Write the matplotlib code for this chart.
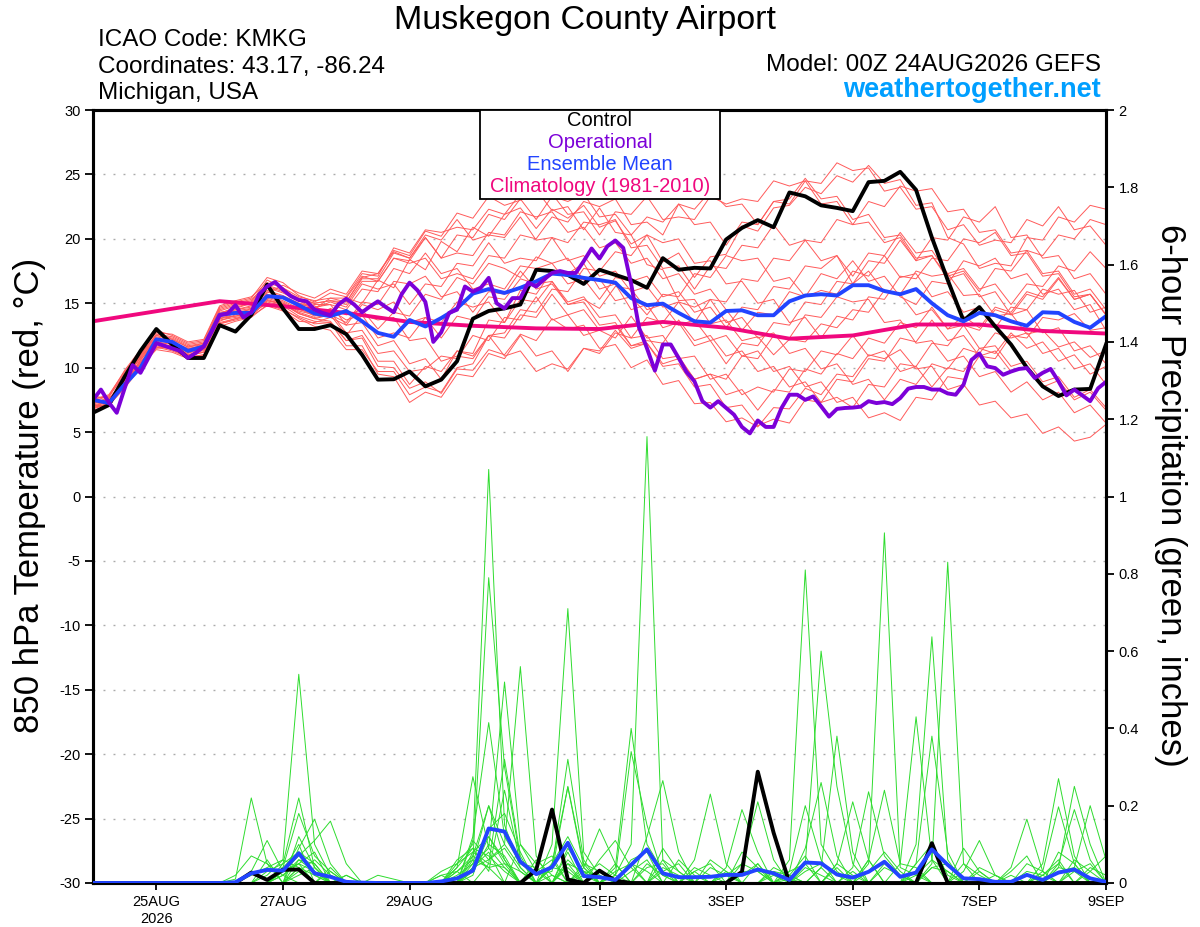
import numpy as np
import matplotlib
matplotlib.use('Agg')
import matplotlib.pyplot as plt
from matplotlib.patches import Rectangle
from matplotlib.ticker import FuncFormatter

plt.rcParams['font.family'] = ['Liberation Sans', 'DejaVu Sans']

# ---------------- DATA ----------------
start = np.datetime64('2026-08-24T00:00')

# control (6-hourly, deg C)
control_t = [6.5, 7.1, 9.3, 11.3, 13.0, 11.8, 10.75, 10.75, 13.3, 12.8,
             14.1, 16.45, 14.6, 13.0, 13.0, 13.3, 12.6, 11.0, 9.07, 9.1,
             9.7, 8.55, 9.07, 10.5, 13.8, 14.4, 14.6, 14.9, 17.6, 17.5,
             17.2, 16.5, 17.6, 17.2, 16.8, 16.2, 18.5, 17.6, 17.75, 17.7,
             19.95, 20.85, 21.45, 20.9, 23.6, 23.3, 22.6, 22.4, 22.15, 24.4,
             24.5, 25.2, 23.8, 20.1, 16.8, 13.65, 14.7, 13.2, 11.8, 10.0,
             8.55, 7.8, 8.3, 8.35, 11.8]

# ensemble mean (6-hourly)
mean_t = [7.5, 7.25, 8.7, 10.0, 12.2, 12.0, 11.3, 11.65, 14.1, 14.25,
          14.25, 15.55, 15.45, 14.85, 14.2, 14.0, 14.4, 13.6, 12.7, 12.4,
          13.7, 13.2, 13.85, 14.6, 15.75, 16.1, 15.8, 16.2, 16.7, 17.3,
          17.2, 16.97, 16.8, 16.6, 15.4, 14.85, 14.97, 14.25, 13.6, 13.5,
          14.4, 14.45, 14.07, 14.07, 15.15, 15.6, 15.7, 15.6, 16.4, 16.4,
          15.95, 15.7, 16.1, 15.0, 14.07, 13.6, 14.25, 14.07, 13.6, 13.25,
          14.3, 14.25, 13.55, 13.1, 14.0]

# operational (3-hourly)
oper_t = [7.5, 8.3, 7.3, 6.5, 8.4, 10.2, 9.6, 10.75, 11.9, 11.7,
          11.5, 11.3, 10.75, 11.15, 11.65, 12.8, 14.07, 14.2, 14.85, 13.9,
          14.3, 15.7, 16.3, 16.65, 16.05, 15.55, 15.25, 15.15, 14.5, 14.25,
          14.07, 14.9, 15.35, 14.9, 14.3, 14.75, 15.15, 14.7, 14.3, 15.7,
          16.6, 16.0, 15.1, 12.0, 12.75, 14.25, 14.5, 16.3, 15.9, 16.2,
          16.97, 15.0, 14.6, 15.4, 15.4, 16.6, 16.3, 16.85, 17.35, 17.5,
          17.35, 17.35, 18.26, 19.25, 18.47, 19.43, 19.87, 19.3, 16.5, 13.1,
          11.5, 9.77, 11.8, 11.8, 10.75, 9.66, 8.94, 7.4, 6.9, 7.4,
          6.87, 6.35, 5.4, 4.9, 5.9, 5.4, 5.4, 6.87, 7.9, 7.9,
          7.5, 7.77, 7.0, 6.2, 6.8, 6.87, 6.9, 6.97, 7.4, 7.25,
          7.33, 7.17, 7.64, 8.37, 8.5, 8.5, 8.3, 8.3, 8.0, 7.9,
          8.68, 10.6, 11.1, 10.1, 9.97, 9.45, 9.7, 9.9, 9.97, 9.2,
          9.6, 9.9, 8.94, 7.85, 8.3, 7.85, 7.4, 8.4, 8.9]

# climatology (daily points, day offset from 24AUG)
clim_days = [0, 2, 3, 4, 5, 6, 7, 8, 9, 10, 11, 12, 13, 14, 15, 16]
clim_t = [13.6, 15.16, 14.77, 14.25, 13.55, 13.25, 13.05, 13.0, 13.55, 13.1,
          12.25, 12.5, 13.35, 13.35, 12.85, 12.65]

# ensemble members temperature (6-hourly)
members_t = [
    [7.0, 7.4, 9.2, 10.8, 12.3, 12.0, 11.4, 11.8, 14.2, 14.6, 15.0, 16.0, 15.6, 15.0, 14.8,
     14.0, 15.4, 15.0, 16.8, 16.2, 18.4, 17.6, 19.8, 19.0, 20.9, 20.2, 21.9, 22.4, 20.8, 22.3,
     21.6, 22.6, 20.9, 21.4, 19.6, 20.3, 18.2, 18.9, 17.0, 18.6, 18.8, 21.0, 20.6, 22.4, 22.6,
     24.0, 23.5, 24.9, 24.4, 25.7, 24.3, 24.6, 22.6, 22.8, 20.1, 19.6, 17.7, 18.1, 17.9, 20.1,
     19.9, 21.7, 21.3, 22.6, 22.3],
    [7.5, 7.0, 8.6, 10.2, 11.6, 11.3, 10.8, 11.0, 13.5, 13.8, 14.0, 15.2, 15.0, 14.2, 13.8,
     13.6, 12.1, 12.3, 10.1, 10.0, 8.4, 8.9, 8.0, 9.9, 9.8, 11.4, 11.0, 12.6, 12.1, 13.8,
     13.0, 13.3, 11.5, 11.8, 10.0, 10.6, 8.7, 9.0, 7.2, 7.3, 5.8, 6.1, 5.4, 6.9, 6.8,
     8.4, 7.9, 9.5, 9.3, 11.0, 10.7, 11.4, 9.9, 10.1, 8.3, 8.7, 7.1, 7.4, 6.1, 6.4,
     4.9, 5.4, 4.3, 4.6, 5.6],
    [6.8, 7.2, 9.5, 11.2, 12.8, 12.2, 11.6, 11.9, 14.6, 15.0, 15.3, 16.4, 16.0, 15.4, 15.0,
     15.2, 15.1, 17.0, 17.3, 19.1, 18.7, 20.6, 20.2, 22.0, 21.6, 23.3, 22.6, 23.0, 23.8, 22.2,
     22.5, 20.7, 22.4, 20.5, 20.3, 18.0, 17.6, 15.2, 15.3, 13.4, 13.7, 12.1, 12.4, 11.0, 12.2,
     12.0, 13.4, 13.1, 14.5, 14.3, 16.0, 15.7, 17.5, 17.1, 17.3, 15.6, 15.7, 14.0, 14.2, 12.6,
     12.9, 11.6, 12.0, 10.8, 11.3],
    [7.3, 7.6, 9.0, 10.4, 11.9, 11.9, 11.0, 11.4, 13.8, 14.2, 14.4, 15.6, 15.2, 14.6, 14.0,
     14.6, 14.1, 14.5, 13.0, 14.3, 14.0, 15.7, 15.3, 17.0, 16.5, 18.1, 17.7, 17.0, 18.6, 18.1,
     18.5, 16.8, 16.9, 15.2, 15.5, 14.1, 15.7, 15.5, 17.3, 17.0, 18.7, 18.3, 18.5, 16.7, 17.0,
     15.5, 16.0, 15.7, 17.5, 17.1, 18.7, 17.0, 17.3, 15.5, 15.9, 14.3, 14.7, 13.1, 14.7, 14.5,
     16.1, 15.7, 16.0, 14.3, 14.7],
    [7.1, 7.0, 8.8, 10.6, 12.1, 11.5, 10.9, 11.2, 13.9, 14.0, 14.2, 15.0, 14.6, 13.8, 13.2,
     12.9, 11.4, 11.4, 9.7, 9.7, 7.9, 8.5, 8.1, 10.0, 10.3, 12.5, 12.7, 14.5, 14.3, 16.1,
     15.9, 17.7, 17.5, 19.0, 18.7, 20.3, 19.7, 20.0, 18.1, 18.3, 16.5, 16.7, 15.0, 15.3, 13.5,
     13.9, 12.3, 14.0, 13.7, 15.5, 15.3, 17.1, 16.9, 18.5, 18.3, 20.0, 19.7, 20.5, 18.7, 18.9,
     17.1, 17.3, 15.5, 15.7, 14.1],
    [7.6, 7.8, 9.4, 11.0, 12.6, 12.4, 11.8, 12.0, 14.4, 14.8, 15.1, 16.8, 16.2, 15.5, 15.2,
     15.4, 15.4, 17.1, 16.7, 18.5, 18.1, 18.5, 16.9, 17.3, 16.9, 18.7, 18.5, 20.3, 20.0, 21.7,
     21.3, 22.9, 22.5, 23.1, 21.1, 21.3, 20.3, 22.7, 22.3, 23.7, 22.5, 22.7, 21.1, 22.9, 22.7,
     24.5, 24.3, 25.9, 25.3, 25.5, 23.7, 24.0, 22.3, 22.5, 20.7, 21.1, 19.5, 19.9, 19.7, 21.5,
     21.0, 22.5, 20.7, 21.0, 19.5],
    [6.9, 7.1, 8.4, 10.0, 11.5, 11.6, 11.1, 11.6, 13.6, 14.1, 14.6, 15.4, 15.0, 14.4, 14.1,
     14.3, 12.7, 12.9, 11.1, 11.3, 9.7, 9.9, 10.9, 10.7, 12.5, 12.1, 13.9, 13.7, 15.5, 13.7,
     14.1, 12.5, 12.9, 12.3, 14.0, 12.3, 12.5, 10.7, 10.9, 9.1, 9.5, 7.9, 8.5, 8.1, 9.9,
     9.7, 11.3, 11.0, 12.5, 10.9, 11.3, 9.7, 10.1, 8.5, 10.0, 9.7, 11.5, 11.1, 12.7, 11.5,
     12.0, 10.5, 11.0, 9.5, 10.1],
    [7.4, 7.2, 9.1, 10.9, 12.4, 12.1, 11.3, 11.7, 14.3, 14.5, 14.8, 15.8, 16.4, 15.8, 15.4,
     16.1, 15.7, 17.5, 17.3, 19.0, 18.5, 20.1, 18.5, 20.3, 20.1, 21.9, 21.5, 23.1, 21.5, 23.3,
     22.9, 23.5, 21.7, 21.9, 20.3, 21.7, 21.3, 22.7, 21.1, 21.3, 19.5, 21.3, 21.1, 22.9, 23.1,
     24.7, 23.1, 23.3, 21.5, 21.9, 20.1, 20.3, 18.5, 18.7, 17.1, 17.5, 15.9, 17.7, 17.5, 19.1,
     18.7, 20.3, 20.0, 21.5, 21.1],
    [7.2, 7.5, 8.9, 10.3, 11.8, 11.7, 11.2, 11.3, 13.7, 13.9, 14.1, 15.1, 14.8, 14.0, 13.6,
     13.5, 11.7, 11.7, 9.5, 9.3, 7.3, 8.1, 7.7, 9.5, 9.3, 11.1, 10.7, 12.5, 10.9, 11.3,
     9.7, 11.5, 11.3, 12.9, 11.5, 11.9, 10.3, 10.7, 9.1, 9.5, 7.9, 8.3, 6.7, 8.3, 8.1,
     9.9, 9.5, 11.1, 10.7, 12.3, 11.9, 13.5, 13.1, 14.7, 13.0, 13.3, 11.5, 11.7, 10.1, 10.5,
     8.9, 9.3, 7.7, 8.3, 6.9],
    [7.0, 7.3, 9.3, 10.7, 12.2, 11.8, 11.5, 11.5, 14.1, 14.4, 14.6, 15.7, 15.4, 14.9, 14.7,
     14.9, 14.5, 16.1, 15.9, 17.7, 17.3, 18.9, 17.3, 17.7, 16.1, 16.5, 16.1, 17.9, 17.7, 18.1,
     16.5, 16.9, 15.3, 17.0, 16.7, 17.1, 15.5, 15.9, 14.3, 14.7, 13.1, 14.7, 14.5, 16.3, 16.1,
     17.9, 17.7, 18.7, 16.5, 17.5, 15.9, 15.7, 14.1, 14.5, 13.0, 14.0, 13.1, 14.7, 14.3, 15.9,
     15.5, 17.0, 15.3, 15.7, 14.1],
    [7.6, 7.3, 8.7, 10.5, 11.7, 11.4, 10.8, 11.0, 13.4, 13.7, 14.0, 14.8, 14.4, 13.6, 13.5,
     13.9, 13.3, 14.9, 14.5, 15.1, 13.5, 13.9, 12.3, 14.0, 13.7, 15.5, 15.3, 16.9, 16.5, 16.7,
     14.9, 15.1, 13.3, 13.5, 11.7, 11.9, 10.1, 10.3, 8.5, 8.7, 6.9, 7.1, 5.5, 6.0, 5.7,
     7.5, 7.3, 9.1, 8.9, 10.7, 10.5, 12.3, 12.0, 13.7, 12.1, 12.5, 10.9, 11.3, 9.7, 10.1,
     8.5, 9.0, 7.5, 8.1, 6.7],
    [7.2, 7.7, 9.6, 11.1, 12.5, 12.3, 11.7, 11.9, 14.5, 14.9, 15.2, 16.2, 15.8, 15.2, 14.6,
     15.4, 15.1, 16.9, 16.9, 18.9, 18.5, 20.3, 19.9, 21.5, 19.9, 20.3, 20.1, 21.7, 19.9, 20.1,
     18.3, 18.7, 17.1, 17.5, 15.9, 16.3, 14.7, 15.1, 13.5, 15.3, 15.1, 16.9, 16.7, 18.5, 18.3,
     19.9, 18.3, 18.7, 17.1, 18.9, 18.7, 20.5, 18.9, 19.1, 17.3, 17.7, 16.1, 16.5, 14.9, 16.5,
     16.3, 17.9, 17.5, 19.0, 17.7],
    [7.0, 7.1, 8.5, 10.1, 11.4, 11.2, 10.7, 10.9, 13.2, 13.6, 13.9, 14.9, 14.5, 13.9, 13.4,
     13.5, 12.1, 12.5, 10.5, 10.5, 8.7, 10.1, 9.7, 11.3, 10.9, 12.5, 10.9, 11.3, 9.7, 10.3,
     9.9, 11.5, 11.1, 12.7, 12.3, 13.9, 13.5, 15.1, 14.7, 15.3, 13.5, 13.9, 12.3, 12.7, 11.1,
     11.5, 9.9, 10.3, 8.7, 9.1, 7.5, 9.1, 8.7, 10.3, 9.9, 11.5, 11.1, 12.7, 12.3, 12.7,
     11.1, 11.5, 9.9, 10.3, 8.7],
    [7.5, 7.9, 9.7, 11.3, 12.9, 12.5, 11.9, 12.1, 14.7, 15.1, 15.4, 17.0, 16.6, 15.6, 15.1,
     15.8, 15.5, 17.3, 17.1, 19.3, 18.9, 20.7, 20.5, 20.9, 20.7, 22.3, 21.9, 23.5, 23.1, 23.5,
     21.9, 22.1, 20.3, 22.1, 21.9, 23.3, 21.5, 21.7, 21.5, 23.3, 22.7, 23.1, 22.9, 24.5, 24.1,
     24.5, 22.7, 22.9, 21.1, 22.9, 22.5, 24.1, 23.7, 23.9, 22.1, 22.3, 20.5, 20.7, 18.9, 19.1,
     17.3, 17.5, 15.7, 16.1, 14.5],
    [6.7, 7.0, 8.8, 10.6, 12.0, 11.8, 11.2, 11.4, 14.0, 14.3, 14.5, 15.5, 15.1, 14.5, 14.2,
     14.5, 13.7, 14.1, 12.3, 12.7, 12.3, 13.9, 13.5, 15.1, 14.7, 15.1, 13.5, 15.3, 15.1, 16.7,
     15.1, 15.5, 13.9, 14.1, 12.3, 12.5, 10.7, 10.9, 9.1, 9.5, 9.1, 10.9, 10.7, 12.5, 12.3,
     14.1, 13.9, 15.5, 15.1, 15.3, 13.5, 13.7, 11.9, 12.1, 10.5, 10.9, 9.3, 9.7, 8.1, 8.9,
     7.5, 8.1, 6.5, 7.1, 5.7],
    [7.3, 7.5, 9.0, 10.8, 12.2, 12.0, 11.5, 11.7, 14.0, 14.5, 14.7, 15.9, 15.5, 15.0, 14.6,
     15.1, 14.7, 16.5, 16.1, 16.5, 14.9, 16.5, 16.3, 18.1, 17.9, 19.7, 18.1, 18.5, 18.3, 20.1,
     19.7, 21.3, 21.1, 21.5, 19.3, 19.5, 17.7, 17.9, 16.1, 17.9, 17.7, 19.5, 19.3, 21.1, 19.5,
     19.9, 19.7, 21.5, 21.1, 21.3, 19.7, 20.1, 18.3, 20.1, 19.9, 21.7, 21.3, 22.5, 20.1, 20.3,
     18.5, 18.7, 16.9, 17.3, 15.7],
    [7.8, 7.6, 8.9, 10.2, 11.6, 11.5, 11.0, 11.2, 13.4, 13.8, 14.2, 15.3, 14.9, 14.3, 13.9,
     14.1, 12.5, 14.1, 13.7, 13.9, 12.1, 12.3, 10.5, 10.9, 10.7, 12.5, 12.3, 14.1, 13.9, 15.7,
     14.1, 14.5, 12.9, 13.3, 11.7, 12.1, 11.9, 13.7, 12.1, 12.5, 10.9, 11.3, 9.7, 10.1, 8.5,
     8.9, 7.3, 7.7, 6.9, 8.7, 8.5, 10.3, 10.1, 11.9, 11.7, 13.3, 12.9, 14.5, 14.1, 15.7,
     15.3, 16.9, 15.3, 15.7, 14.1],
    [7.1, 7.4, 9.4, 11.0, 12.5, 12.2, 11.6, 11.8, 14.2, 14.7, 15.0, 16.3, 15.9, 15.3, 15.0,
     15.2, 14.9, 16.7, 16.7, 18.5, 18.3, 20.1, 18.5, 18.9, 18.7, 20.5, 20.3, 22.1, 21.7, 22.1,
     20.5, 20.9, 19.3, 19.7, 18.1, 18.5, 16.9, 17.3, 15.7, 16.1, 14.5, 12.9, 14.3, 14.1, 15.9,
     15.5, 17.3, 16.9, 18.3, 16.7, 17.1, 15.5, 14.9, 16.7, 16.5, 18.3, 17.9, 18.5, 16.9, 17.3,
     15.7, 16.1, 14.5, 14.9, 12.9],
    [6.9, 7.2, 8.7, 10.4, 11.8, 11.7, 11.2, 11.5, 13.8, 14.0, 14.3, 15.2, 14.9, 14.2, 13.8,
     14.1, 13.5, 15.1, 14.9, 16.7, 16.5, 17.1, 15.5, 15.9, 14.3, 15.9, 15.7, 17.5, 16.1, 16.5,
     14.9, 15.3, 14.6, 16.3, 16.1, 14.5, 14.9, 13.3, 13.7, 12.1, 12.5, 10.9, 11.3, 9.7, 10.1,
     8.5, 8.9, 7.3, 7.7, 6.1, 6.5, 5.9, 7.7, 7.5, 9.3, 9.1, 10.9, 10.7, 12.5, 12.3,
     13.9, 13.7, 14.2, 12.9, 13.1],
    [7.4, 7.8, 9.8, 11.4, 12.7, 12.6, 12.0, 12.2, 14.8, 15.2, 15.5, 16.6, 16.2, 15.2, 14.9,
     14.9, 13.3, 13.5, 11.7, 12.1, 10.3, 10.7, 9.1, 11.3, 11.1, 13.7, 13.5, 16.0, 15.7, 17.5,
     17.3, 18.1, 16.1, 16.5, 14.5, 14.9, 13.1, 13.5, 11.7, 12.1, 10.3, 11.9, 11.7, 13.5, 13.3,
     15.1, 14.9, 16.7, 16.5, 18.3, 18.1, 19.9, 18.3, 18.7, 16.9, 17.3, 15.5, 15.9, 14.1, 14.5,
     12.7, 13.1, 11.3, 11.7, 10.3],
]

# 6-hour precipitation (inches): control and ensemble mean
control_p = [0, 0, 0, 0, 0, 0, 0, 0, 0, 0,
             0.027, 0.008, 0.034, 0.035, 0, 0, 0, 0, 0, 0,
             0, 0, 0, 0, 0, 0, 0, 0, 0.034, 0.19,
             0.009, 0, 0.032, 0.006, 0, 0, 0, 0, 0, 0,
             0, 0.029, 0.288, 0.13, 0, 0, 0, 0, 0, 0,
             0, 0, 0, 0.103, 0, 0, 0, 0, 0, 0,
             0, 0, 0, 0, 0]
mean_p = [0, 0, 0, 0, 0, 0, 0, 0, 0, 0.002,
          0.025, 0.034, 0.032, 0.077, 0.025, 0.016, 0.003, 0.001, 0, 0,
          0, 0, 0.004, 0.012, 0.032, 0.141, 0.133, 0.055, 0.023, 0.041,
          0.104, 0.018, 0.015, 0.008, 0.047, 0.087, 0.025, 0.015, 0.015, 0.016,
          0.021, 0.021, 0.035, 0.025, 0.008, 0.053, 0.051, 0.022, 0.014, 0.029,
          0.055, 0.016, 0.027, 0.087, 0.047, 0.012, 0.010, 0.003, 0.003, 0.021,
          0.008, 0.027, 0.035, 0.012, 0.003]

# ensemble members precipitation: {6h step: inches}, other steps are 0
members_p = [
    {9: 0.01, 10: 0.22, 11: 0.05, 12: 0.02, 24: 0.03, 25: 0.12, 26: 0.05, 29: 0.02, 33: 0.04, 34: 0.40, 35: 0.10, 36: 0.03, 45: 0.04, 46: 0.02, 52: 0.05, 53: 0.38, 54: 0.08, 60: 0.02, 61: 0.06},
    {10: 0.02, 11: 0.04, 12: 0.06, 13: 0.54, 14: 0.10, 15: 0.02, 23: 0.02, 24: 0.05, 25: 0.20, 26: 0.06, 28: 0.03, 30: 0.05, 33: 0.02, 34: 0.34, 35: 0.15, 36: 0.02, 44: 0.01, 48: 0.03, 53: 0.05, 54: 0.83, 55: 0.05, 62: 0.03, 63: 0.05},
    {11: 0.03, 12: 0.05, 13: 0.22, 14: 0.04, 23: 0.06, 24: 0.09, 25: 0.07, 26: 0.03, 31: 0.02, 32: 0.05, 33: 0.02, 34: 0.10, 35: 1.155, 36: 0.06, 37: 0.03, 41: 0.02, 42: 0.05, 47: 0.04, 55: 0.09, 56: 0.03, 59: 0.02},
    {12: 0.04, 13: 0.18, 14: 0.07, 15: 0.03, 22: 0.02, 24: 0.11, 25: 0.06, 26: 0.09, 27: 0.03, 30: 0.04, 35: 0.12, 36: 0.265, 37: 0.08, 40: 0.03, 43: 0.02, 46: 0.04, 49: 0.06, 55: 0.03, 56: 0.11, 57: 0.02},
    {11: 0.06, 13: 0.09, 14: 0.165, 15: 0.05, 24: 0.02, 25: 0.14, 26: 0.18, 27: 0.08, 31: 0.03, 32: 0.02, 38: 0.06, 39: 0.23, 40: 0.05, 44: 0.02, 45: 0.07, 50: 0.05, 51: 0.02, 58: 0.04, 59: 0.165, 60: 0.03},
    {12: 0.03, 13: 0.07, 14: 0.11, 15: 0.16, 16: 0.05, 24: 0.04, 25: 0.08, 27: 0.10, 28: 0.05, 29: 0.07, 33: 0.05, 36: 0.06, 40: 0.04, 41: 0.19, 42: 0.08, 44: 0.03, 45: 0.05, 52: 0.02, 53: 0.06, 60: 0.05, 61: 0.27, 62: 0.07},
    {10: 0.03, 11: 0.11, 12: 0.03, 13: 0.05, 16: 0.02, 23: 0.03, 25: 0.05, 26: 0.04, 30: 0.09, 31: 0.03, 36: 0.04, 37: 0.02, 41: 0.05, 42: 0.21, 43: 0.06, 49: 0.03, 50: 0.08, 51: 0.03, 60: 0.03, 61: 0.197, 62: 0.05},
    {9: 0.02, 10: 0.07, 11: 0.05, 13: 0.12, 14: 0.04, 18: 0.02, 19: 0.01, 22: 0.03, 23: 0.05, 24: 0.08, 25: 0.12, 26: 0.06, 31: 0.04, 32: 0.14, 33: 0.05, 38: 0.03, 39: 0.05, 45: 0.03, 46: 0.05, 47: 0.02, 61: 0.04, 62: 0.25, 63: 0.10},
    {12: 0.02, 13: 0.06, 14: 0.03, 23: 0.04, 24: 0.275, 25: 0.09, 26: 0.04, 28: 0.06, 29: 0.02, 32: 0.06, 33: 0.11, 34: 0.04, 41: 0.08, 42: 0.04, 47: 0.05, 48: 0.02, 56: 0.04, 57: 0.02, 61: 0.05, 62: 0.19, 63: 0.06},
    {13: 0.04, 14: 0.02, 23: 0.05, 24: 0.10, 25: 1.07, 26: 0.15, 27: 0.04, 30: 0.06, 31: 0.02, 35: 0.05, 36: 0.02, 44: 0.06, 45: 0.81, 46: 0.10, 47: 0.03, 53: 0.04, 54: 0.03, 62: 0.04, 63: 0.20, 64: 0.06},
    {12: 0.05, 13: 0.08, 14: 0.02, 24: 0.06, 25: 0.79, 26: 0.30, 27: 0.06, 29: 0.05, 30: 0.12, 31: 0.04, 34: 0.06, 35: 0.08, 39: 0.04, 40: 0.02, 44: 0.03, 45: 0.20, 46: 0.06, 50: 0.04, 51: 0.02, 63: 0.03, 64: 0.07},
    {12: 0.03, 13: 0.10, 15: 0.04, 24: 0.12, 25: 0.415, 26: 0.12, 27: 0.05, 28: 0.02, 29: 0.03, 30: 0.25, 31: 0.05, 37: 0.06, 38: 0.02, 45: 0.05, 46: 0.60, 47: 0.25, 48: 0.05, 52: 0.03, 58: 0.03, 59: 0.07},
    {13: 0.06, 14: 0.05, 16: 0.02, 23: 0.03, 24: 0.07, 25: 0.20, 26: 0.10, 27: 0.04, 30: 0.08, 32: 0.03, 36: 0.09, 37: 0.03, 42: 0.05, 45: 0.09, 46: 0.26, 47: 0.07, 52: 0.05, 53: 0.10, 54: 0.02, 60: 0.02, 61: 0.05},
    {12: 0.02, 13: 0.05, 14: 0.08, 24: 0.05, 25: 0.09, 26: 0.52, 27: 0.10, 28: 0.03, 29: 0.06, 34: 0.05, 35: 0.03, 38: 0.04, 39: 0.02, 46: 0.04, 47: 0.38, 48: 0.08, 55: 0.05, 56: 0.02, 61: 0.04, 62: 0.03},
    {13: 0.03, 14: 0.06, 15: 0.02, 24: 0.08, 25: 0.05, 26: 0.32, 27: 0.07, 29: 0.04, 30: 0.03, 33: 0.03, 34: 0.05, 41: 0.03, 42: 0.03, 47: 0.05, 48: 0.21, 49: 0.06, 53: 0.04, 54: 0.05, 62: 0.06, 63: 0.03},
    {11: 0.02, 12: 0.06, 13: 0.04, 23: 0.04, 24: 0.09, 25: 0.03, 26: 0.24, 27: 0.05, 28: 0.04, 31: 0.05, 32: 0.03, 39: 0.06, 40: 0.03, 48: 0.04, 49: 0.236, 50: 0.07, 51: 0.02, 56: 0.03, 58: 0.02, 61: 0.08, 62: 0.05},
    {13: 0.02, 14: 0.04, 24: 0.04, 25: 0.06, 26: 0.10, 27: 0.56, 28: 0.07, 30: 0.05, 31: 0.03, 35: 0.04, 36: 0.05, 43: 0.03, 44: 0.02, 49: 0.05, 50: 0.906, 51: 0.04, 52: 0.02, 59: 0.03, 60: 0.02},
    {12: 0.03, 13: 0.05, 14: 0.03, 22: 0.02, 23: 0.03, 24: 0.06, 25: 0.04, 29: 0.10, 30: 0.71, 31: 0.08, 32: 0.02, 36: 0.03, 37: 0.05, 49: 0.06, 50: 0.24, 51: 0.05, 52: 0.04, 57: 0.02, 63: 0.04, 64: 0.02},
    {13: 0.04, 15: 0.03, 24: 0.03, 25: 0.10, 26: 0.07, 29: 0.04, 30: 0.32, 31: 0.06, 34: 0.03, 35: 0.06, 40: 0.02, 41: 0.05, 42: 0.03, 51: 0.05, 52: 0.43, 53: 0.06, 54: 0.03, 59: 0.05, 60: 0.03},
    {12: 0.04, 13: 0.08, 14: 0.05, 24: 0.07, 25: 0.04, 26: 0.05, 27: 0.03, 29: 0.05, 30: 0.248, 31: 0.04, 33: 0.02, 38: 0.03, 43: 0.04, 44: 0.02, 52: 0.10, 53: 0.637, 54: 0.06, 61: 0.03, 62: 0.04},
]

tick_dates = ['2026-08-25', '2026-08-27', '2026-08-29', '2026-09-01',
              '2026-09-03', '2026-09-05', '2026-09-07', '2026-09-09']
tick_labels = ['25AUG\n2026', '27AUG', '29AUG', '1SEP', '3SEP', '5SEP', '7SEP', '9SEP']
temp_ticks = list(range(-30, 31, 5))
precip_ticks = [0, 0.2, 0.4, 0.6, 0.8, 1.0, 1.2, 1.4, 1.6, 1.8, 2.0]

# ---------------- PLOT ----------------
W, H = 1200, 927
fig = plt.figure(figsize=(W / 100, H / 100), dpi=100)
L, R, T, B = 93, 1106, 110, 883
ax = fig.add_axes([L / W, 1 - B / H, (R - L) / W, (B - T) / H])
ax2 = ax.twinx()

t6 = start + np.arange(len(control_t)) * np.timedelta64(6, 'h')
t3 = start + np.arange(len(oper_t)) * np.timedelta64(3, 'h')
tc = start + np.array(clim_days) * np.timedelta64(24, 'h')

RED = '#ff5a5a'
GREEN = '#2edc2e'
BLUE = '#2244ff'
PURPLE = '#7c00d8'
PINK = '#f0087e'

for m in members_t:
    ax.plot(t6, m, color=RED, lw=0.7, zorder=2)
ax.plot(tc, clim_t, color=PINK, lw=2.8, zorder=3, solid_capstyle='butt')
ax.plot(t6, control_t, color='black', lw=2.8, zorder=4)
ax.plot(t6, mean_t, color=BLUE, lw=2.8, zorder=5)
ax.plot(t3, oper_t, color=PURPLE, lw=2.8, zorder=6)

for d in members_p:
    p = np.zeros(len(t6))
    for k, v in d.items():
        p[k] = v
    ax2.plot(t6, p, color=GREEN, lw=0.7, zorder=2)
ax2.plot(t6, control_p, color='black', lw=2.8, zorder=4)
ax2.plot(t6, mean_p, color=BLUE, lw=2.8, zorder=5)

x0 = start
x1 = start + np.timedelta64(16 * 24, 'h')
ax.set_xlim(x0, x1)
ax.set_ylim(-30, 30)
ax2.set_ylim(0, 2)

ax.set_yticks(temp_ticks)
ax.set_yticklabels([str(v) for v in temp_ticks])
ax2.set_yticks(precip_ticks)
ax2.yaxis.set_major_formatter(FuncFormatter(lambda v, pos: f'{v:g}'))

ax.set_xticks(np.array(tick_dates, dtype='datetime64[h]'))
ax.set_xticklabels(tick_labels)

ax.set_axisbelow(True)
ax.yaxis.grid(True, color='#aaaaaa', lw=1.0, linestyle=(0, (1.4, 5.8)))
ax.xaxis.grid(False)

for a in (ax, ax2):
    for s in a.spines.values():
        s.set_linewidth(2.2)
ax.tick_params(axis='y', direction='out', length=6, width=1.3, labelsize=10.5, pad=3)
ax.tick_params(axis='x', direction='out', length=5, width=1.3, labelsize=10.5, pad=4)
ax2.tick_params(axis='y', direction='out', length=6, width=1.3, labelsize=10.5, pad=3)

# axis titles
fig.text(30 / W, 1 - 495 / H, '850 hPa Temperature (red, °C)', rotation=90,
         ha='center', va='center', fontsize=25)
fig.text(1170 / W, 1 - 495 / H, '6-hour Precipitation (green, inches)', rotation=270,
         ha='center', va='center', fontsize=25)

# header texts
fig.text(585 / W, 1 - 29.5 / H, 'Muskegon County Airport', ha='center', va='baseline', fontsize=24.5)
fig.text(98 / W, 1 - 46 / H, 'ICAO Code: KMKG', ha='left', va='baseline', fontsize=17.5)
fig.text(98 / W, 1 - 73 / H, 'Coordinates: 43.17, -86.24', ha='left', va='baseline', fontsize=17.5)
fig.text(98 / W, 1 - 99.5 / H, 'Michigan, USA', ha='left', va='baseline', fontsize=17.5)
fig.text(1101 / W, 1 - 71 / H, 'Model: 00Z 24AUG2026 GEFS', ha='right', va='baseline', fontsize=17.5)
fig.text(1101 / W, 1 - 97 / H, 'weathertogether.net', ha='right', va='baseline', fontsize=19.5,
         weight='bold', color='#009fff')

# legend box
rect = Rectangle((480 / W, 1 - 199 / H), 240 / W, 89 / H, transform=fig.transFigure,
                 facecolor='white', edgecolor='black', lw=1.3, zorder=5)
fig.add_artist(rect)
leg = [('Control', 'black', 121), ('Operational', PURPLE, 142),
       ('Ensemble Mean', BLUE, 164), ('Climatology (1981-2010)', PINK, 186)]
for txt, col, yy in leg:
    fig.text(600 / W, 1 - yy / H, txt, ha='center', va='center', fontsize=14.5, color=col, zorder=6)

fig.savefig('out.png', dpi=100)
